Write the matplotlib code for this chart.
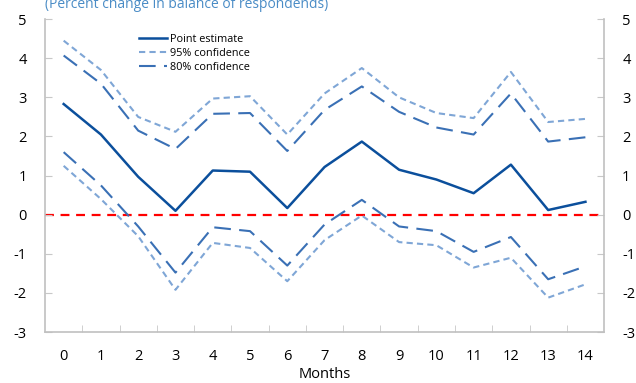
import matplotlib
matplotlib.use("Agg")
import matplotlib.pyplot as plt

plt.rcParams['font.family'] = ['Open Sans', 'DejaVu Sans']
plt.rcParams['axes.unicode_minus'] = False

months = list(range(15))
point_estimate = [2.83, 2.05, 0.97, 0.10, 1.13, 1.10, 0.17, 1.22, 1.87, 1.15, 0.90, 0.55, 1.28, 0.12, 0.33]
upper_95 = [4.45, 3.70, 2.50, 2.12, 2.97, 3.03, 2.05, 3.10, 3.75, 3.00, 2.60, 2.47, 3.65, 2.37, 2.45]
upper_80 = [4.07, 3.35, 2.15, 1.68, 2.58, 2.60, 1.63, 2.68, 3.28, 2.63, 2.23, 2.05, 3.10, 1.87, 1.98]
lower_80 = [1.60, 0.75, -0.30, -1.48, -0.32, -0.42, -1.30, -0.25, 0.38, -0.30, -0.42, -0.95, -0.57, -1.65, -1.32]
lower_95 = [1.25, 0.40, -0.55, -1.92, -0.72, -0.85, -1.70, -0.65, -0.02, -0.70, -0.78, -1.35, -1.10, -2.12, -1.78]
y_ticks = [-3, -2, -1, 0, 1, 2, 3, 4, 5]

c_point = '#0b4f9c'
c_80 = '#3a70b5'
c_95 = '#7fa6d6'

fig = plt.figure(figsize=(6.36, 3.83), dpi=100)
ax = fig.add_axes([0.0708, 0.133, 0.879, 0.817])

ax.axhline(0, color='#ff0000', lw=1.6, ls=(0, (4, 3)), zorder=1)
ax.plot(months, upper_95, color=c_95, lw=1.5, ls=(0, (3, 2)))
ax.plot(months, lower_95, color=c_95, lw=1.5, ls=(0, (3, 2)))
ax.plot(months, upper_80, color=c_80, lw=1.5, ls=(0, (8, 4)))
ax.plot(months, lower_80, color=c_80, lw=1.5, ls=(0, (8, 4)))
ax.plot(months, point_estimate, color=c_point, lw=1.8, label='Point estimate')

# legend entries (one per band)
ax.plot([], [], color=c_95, lw=1.5, ls=(0, (3, 2)), label='95% confidence')
ax.plot([], [], color=c_80, lw=1.5, ls=(0, (8, 4)), label='80% confidence')
ax.legend(loc='upper left', bbox_to_anchor=(0.15, 0.985), frameon=False,
          fontsize=7.8, handlelength=2.6, handletextpad=0.3, labelspacing=0.3)

ax.set_xlim(-0.5, 14.5)
ax.set_ylim(-3, 5)
ax.set_yticks(y_ticks)
ax.set_xticks(months)
ax.set_xticks([m + 0.5 for m in months[:-1]], minor=True)
ax.tick_params(axis='x', which='major', length=0, pad=12, labelsize=10.5)
ax.tick_params(axis='x', which='minor', direction='in', length=5, color='#c8c8c8')
ax.tick_params(axis='y', direction='in', length=5, color='#c8c8c8', labelsize=10.5, pad=13,
               right=True, labelright=True)
for side in ('left', 'right', 'bottom'):
    ax.spines[side].set_color('#c0c0c0')
    ax.spines[side].set_linewidth(1.2)
ax.spines['top'].set_visible(False)
ax.set_xlabel('Months', fontsize=10.5, labelpad=2)

fig.text(0.0708, 1 - 8 / 383, '(Percent change in balance of respondends)',
         color='#4a8cc6', fontsize=10, va='baseline', ha='left')

fig.savefig('out.png', dpi=100)
